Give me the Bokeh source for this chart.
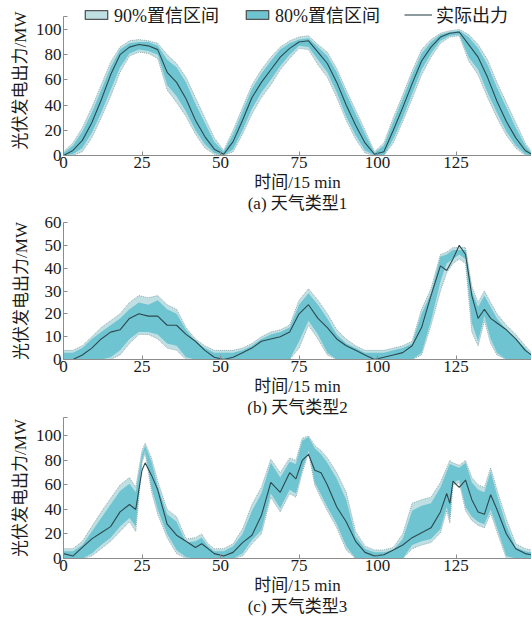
from bokeh.plotting import figure
from bokeh.layouts import column
from bokeh.models import Range1d, Title, Legend, LegendItem, ColumnDataSource
from bokeh.embed import file_html
from bokeh.resources import INLINE

# ---------------- data ----------------
X_TICKS = [0, 25, 50, 75, 100, 125]
Y_LABEL = "光伏发电出力/MW"
X_LABEL = "时间/15 min"
SUBTITLES = ["(a) 天气类型1", "(b) 天气类型2", "(c) 天气类型3"]
LEGEND_LABELS = ["90%置信区间", "80%置信区间", "实际出力"]

# panel (a)
X1 = [0, 3, 6, 9, 12, 15, 18, 21, 24, 27, 30, 33, 36, 39, 42, 45, 48, 51, 54, 57, 60, 63, 66, 69, 72,
      75, 78, 81, 84, 87, 90, 93, 96, 99, 102, 105, 108, 111, 114, 117, 120, 123, 126, 129, 132, 135,
      138, 141, 144, 147, 149]
ACT1 = [0, 4, 12, 26, 44, 64, 80, 86, 88, 87, 84, 66, 58, 45, 28, 15, 5, 1, 11, 28, 46, 58, 68, 78, 85,
        90, 91, 82, 73, 58, 40, 24, 10, 1, 3, 20, 38, 57, 75, 86, 94, 97, 98, 88, 78, 62, 43, 27, 14, 4, 1]
HI90_1 = [3, 10, 22, 38, 56, 74, 86, 91, 92, 91, 89, 80, 73, 62, 46, 30, 14, 4, 20, 38, 56, 68, 78, 86, 91,
          94, 95, 88, 82, 69, 52, 36, 20, 3, 10, 30, 48, 67, 84, 92, 97, 99, 100, 96, 88, 76, 58, 42, 26, 10, 3]
HI80_1 = [2, 8, 19, 34, 52, 70, 84, 89, 90, 90, 87, 76, 70, 58, 41, 26, 11, 3, 17, 35, 53, 65, 75, 84, 89,
          92, 93, 86, 79, 66, 49, 33, 17, 2, 8, 27, 45, 64, 81, 90, 96, 98, 99, 94, 85, 72, 54, 38, 22, 8, 2]
LO80_1 = [0, 1, 6, 18, 34, 52, 70, 81, 84, 83, 80, 56, 47, 35, 20, 9, 2, 0, 5, 20, 37, 50, 60, 71, 80,
          87, 86, 76, 66, 50, 31, 16, 4, 0, 0, 13, 30, 49, 68, 81, 91, 95, 96, 78, 68, 50, 34, 19, 8, 1, 0]
LO90_1 = [0, 0, 3, 14, 30, 47, 66, 79, 82, 81, 77, 52, 42, 31, 17, 6, 1, 0, 3, 17, 33, 46, 56, 68, 77,
          85, 84, 72, 62, 46, 28, 13, 2, 0, 0, 10, 27, 45, 64, 78, 89, 94, 95, 75, 64, 46, 30, 16, 6, 0, 0]

# panel (b)
X2 = [0, 3, 6, 9, 12, 15, 18, 21, 24, 27, 30, 33, 36, 39, 42, 45, 48, 51, 54, 57, 60, 63, 66, 69, 72,
      75, 78, 81, 84, 87, 90, 93, 96, 99, 102, 105, 108, 111, 114, 117, 120, 122, 124, 126, 128, 130,
      132, 134, 136, 138, 141, 144, 147, 149]
ACT2 = [0, 0, 2, 5, 9, 12, 13, 18, 20, 19, 19, 15, 15, 11, 8, 4, 1, 0, 1, 3, 5, 8, 9, 10, 12,
        20, 24, 18, 14, 9, 6, 4, 2, 0, 1, 2, 3, 6, 14, 28, 41, 39, 44, 50, 46, 28,
        18, 22, 18, 16, 13, 9, 4, 2]
HI90_2 = [4, 4, 6, 10, 14, 17, 20, 25, 28, 27, 28, 24, 22, 14, 9, 6, 4, 4, 4, 5, 7, 10, 12, 13, 15,
          26, 31, 26, 20, 13, 9, 6, 4, 4, 4, 5, 6, 8, 22, 31, 46, 47, 49, 49, 49, 32,
          25, 30, 25, 20, 15, 11, 6, 3]
HI80_2 = [3, 3, 5, 9, 12, 15, 18, 22, 25, 24, 26, 22, 20, 13, 8, 5, 3, 3, 3, 4, 6, 9, 11, 12, 14,
          24, 29, 24, 18, 11, 7, 5, 3, 3, 3, 4, 5, 7, 20, 29, 45, 46, 48, 48, 48, 30,
          23, 28, 23, 18, 13, 9, 5, 2]
LO80_2 = [0, 0, 0, 0, 0, 1, 4, 9, 12, 12, 11, 7, 6, 1, 0, 0, 0, 0, 0, 0, 0, 0, 0, 0, 0,
          8, 17, 11, 3, 0, 0, 0, 0, 0, 0, 0, 0, 0, 3, 17, 34, 42, 44, 46, 44, 16,
          8, 19, 9, 3, 0, 0, 0, 0]
LO90_2 = [0, 0, 0, 0, 0, 0, 2, 7, 11, 11, 9, 5, 4, 0, 0, 0, 0, 0, 0, 0, 0, 0, 0, 0, 0,
          5, 15, 9, 2, 0, 0, 0, 0, 0, 0, 0, 0, 0, 2, 15, 30, 38, 42, 44, 42, 12,
          6, 17, 7, 2, 0, 0, 0, 0]

# panel (c)
X3 = [0, 3, 6, 9, 12, 15, 18, 21, 23, 25, 26, 28, 30, 33, 36, 39, 42, 44, 46, 48,
      51, 54, 57, 60, 63, 66, 69, 72, 74, 76, 78, 80, 82, 84, 87, 90, 93, 96, 99, 102,
      105, 108, 111, 114, 117, 120, 122, 123, 124, 126, 128, 130, 132, 134, 136, 138, 141, 144, 147, 149]
ACT3 = [4, 2, 9, 16, 21, 26, 38, 44, 40, 72, 78, 68, 56, 28, 19, 14, 9, 12, 8, 4,
        2, 5, 13, 19, 35, 62, 54, 70, 65, 80, 85, 72, 70, 60, 42, 30, 14, 5, 2, 3,
        7, 11, 17, 21, 25, 38, 53, 45, 63, 58, 64, 48, 38, 36, 52, 40, 20, 8, 4, 3]
HI90_3 = [8, 8, 14, 26, 38, 49, 60, 66, 58, 88, 94, 82, 63, 40, 34, 16, 17, 20, 12, 8,
          8, 12, 24, 44, 58, 81, 70, 82, 80, 98, 100, 92, 88, 82, 70, 54, 22, 10, 7, 7,
          9, 20, 45, 48, 50, 62, 74, 80, 78, 76, 80, 66, 60, 58, 74, 56, 32, 12, 8, 7]
HI80_3 = [6, 6, 11, 22, 33, 44, 55, 61, 54, 85, 92, 79, 59, 36, 30, 13, 14, 17, 10, 6,
          6, 10, 20, 39, 53, 78, 66, 79, 77, 96, 99, 90, 85, 78, 65, 48, 18, 8, 5, 5,
          7, 16, 39, 43, 45, 58, 71, 77, 76, 74, 78, 62, 56, 54, 71, 52, 27, 9, 6, 5]
LO80_3 = [0, 0, 0, 4, 11, 17, 26, 33, 26, 80, 88, 58, 40, 20, 7, 1, 0, 0, 0, 0,
          0, 0, 4, 15, 23, 53, 41, 56, 53, 72, 88, 62, 52, 42, 28, 10, 0, 0, 0, 0,
          0, 0, 11, 14, 16, 24, 42, 32, 62, 64, 42, 34, 30, 28, 40, 25, 2, 0, 0, 0]
LO90_3 = [0, 0, 0, 2, 8, 14, 22, 30, 22, 78, 86, 55, 36, 17, 4, 0, 0, 0, 0, 0,
          0, 0, 2, 12, 20, 50, 38, 53, 50, 70, 86, 60, 49, 39, 25, 7, 0, 0, 0, 0,
          0, 0, 8, 11, 13, 21, 39, 29, 60, 62, 39, 31, 27, 25, 37, 22, 0, 0, 0, 0]

# ---------------- style ----------------
FONT = "Liberation Serif, Noto Sans CJK SC"
FS = "17px"
C90 = "#bfdfe3"
C80 = "#6fc4d1"
CLINE = "#2c4a4f"
CAX = "#8c8c8c"
CTXT = "#1a1a1a"
NAN = float("nan")


def panel(x, act, lo90, hi90, lo80, hi80, ymax, yticks, ytop, blank_top, frame_h, btop, bbot,
          subtitle, ylab_standoff, with_legend=False):
    p = figure(frame_width=468, frame_height=frame_h, min_border_left=63, min_border_right=0,
               min_border_top=btop, min_border_bottom=bbot,
               x_range=Range1d(0, 149), y_range=Range1d(0, ymax),
               output_backend="svg", toolbar_location=None)
    p.outline_line_color = None
    p.grid.visible = False
    src = ColumnDataSource(dict(x=x, act=act, lo90=lo90, hi90=hi90, lo80=lo80, hi80=hi80))
    p.varea(x="x", y1="lo90", y2="hi90", source=src, fill_color=C90)
    p.varea(x="x", y1="lo80", y2="hi80", source=src, fill_color=C80)
    for col in ("lo90", "hi90"):
        p.line(x="x", y=col, source=src, line_color="#7d9ea3", line_width=0.8, line_dash="1 1")
    r_act = p.line(x="x", y="act", source=src, line_color=CLINE, line_width=1.1)

    xa = p.xaxis[0]
    ya = p.yaxis[0]
    xa.ticker = X_TICKS
    ya.ticker = yticks
    if blank_top:
        ya.major_label_overrides = {ytop: ""}
    ya.bounds = (0, ytop)
    xa.axis_label = X_LABEL
    ya.axis_label = Y_LABEL
    for ax in (xa, ya):
        ax.axis_line_color = CAX
        ax.major_tick_line_color = CAX
        ax.major_tick_in = 4
        ax.major_tick_out = 0
        ax.minor_tick_line_color = None
        ax.major_label_text_font = FONT
        ax.major_label_text_font_size = FS
        ax.major_label_text_color = CTXT
        ax.axis_label_text_font = FONT
        ax.axis_label_text_font_size = FS
        ax.axis_label_text_font_style = "normal"
        ax.axis_label_text_color = CTXT
    xa.major_label_standoff = 1
    ya.major_label_standoff = 2
    xa.axis_label_standoff = 2
    ya.axis_label_standoff = ylab_standoff

    t = Title(text=subtitle, align="center", text_font=FONT, text_font_size=FS,
              text_font_style="normal", text_color=CTXT, standoff=-6, offset=0)
    p.add_layout(t, "below")

    if with_legend:
        d90 = p.patch(x=[NAN], y=[NAN], fill_color=C90, line_color="#555555", line_width=1.3)
        d80 = p.patch(x=[NAN], y=[NAN], fill_color=C80, line_color="#555555", line_width=1.3)
        leg = Legend(items=[LegendItem(label=LEGEND_LABELS[0], renderers=[d90]),
                            LegendItem(label=LEGEND_LABELS[1], renderers=[d80]),
                            LegendItem(label=LEGEND_LABELS[2], renderers=[r_act])],
                     orientation="horizontal", location=(19, 128), padding=0, margin=0,
                     spacing=24, label_standoff=4, glyph_width=28, glyph_height=11,
                     label_text_font=FONT, label_text_font_size="18px", label_text_color=CTXT,
                     label_height=20, border_line_color=None, background_fill_alpha=0)
        p.add_layout(leg)
    return p


p1 = panel(X1, ACT1, LO90_1, HI90_1, LO80_1, HI80_1, 119, [0, 20, 40, 60, 80, 100, 110], 110, True,
           150, 5, 58, SUBTITLES[0], 3, with_legend=True)
p2 = panel(X2, ACT2, LO90_2, HI90_2, LO80_2, HI80_2, 60, [0, 10, 20, 30, 40, 50, 60], 60, False,
           137, 9, 56, SUBTITLES[1], 11)
p3 = panel(X3, ACT3, LO90_3, HI90_3, LO80_3, HI80_3, 115, [0, 20, 40, 60, 80, 100, 115], 115, True,
           141, 2, 58, SUBTITLES[2], 3)

layout = column(p1, p2, p3, spacing=0)
open("out.html", "w").write(file_html(layout, INLINE))
